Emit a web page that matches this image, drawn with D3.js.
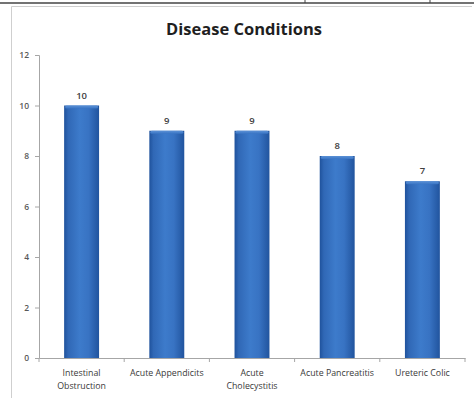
<!DOCTYPE html>
<html>
<head>
<meta charset="utf-8">
<script src="https://cdn.jsdelivr.net/npm/d3@7"></script>
<style>
  html, body { margin: 0; padding: 0; background: #fff; }
  svg { display: block; }
</style>
</head>
<body>
<svg id="chart" width="474" height="398"></svg>
<script>
// Disease condition counts
const categories = [
  ["Intestinal", "Obstruction"],
  ["Acute Appendicits"],
  ["Acute", "Cholecystitis"],
  ["Acute Pancreatitis"],
  ["Ureteric Colic"]
];
const counts = [10, 9, 9, 8, 7];
const yTicks = [0, 2, 4, 6, 8, 10, 12];
const title = "Disease Conditions";

const svg = d3.select("#chart");
const W = 474, H = 398;
const margin = { left: 39, right: 9, top: 55, bottom: 40 };
const x0 = margin.left, x1 = W - margin.right;
const yBase = H - margin.bottom, yTop = margin.top;

const font = "'Open Sans', 'Liberation Sans', sans-serif";

// Page rule across the top with two column separators
svg.append("line").attr("x1", 0).attr("x2", W).attr("y1", 3).attr("y2", 3)
  .attr("stroke", "#444").attr("stroke-width", 1.5);
[305, 430].forEach(px => svg.append("line")
  .attr("x1", px).attr("x2", px).attr("y1", 0).attr("y2", 3)
  .attr("stroke", "#444").attr("stroke-width", 1));

// Chart frame
svg.append("path")
  .attr("d", `M11.5,${H} V6.5 H${W - 2}`)
  .attr("fill", "none").attr("stroke", "#cfcfcf").attr("stroke-width", 1);

const idx = d3.range(categories.length);
const x = d3.scaleBand().domain(idx).range([x0, x1])
  .paddingInner(0.59).paddingOuter(0.295);
const y = d3.scaleLinear().domain([0, 12]).range([yBase, yTop]);

// Bar shading: darker edges, lighter middle
const defs = svg.append("defs");
const grad = defs.append("linearGradient").attr("id", "barGrad")
  .attr("x1", "0%").attr("x2", "100%").attr("y1", "0%").attr("y2", "0%");
[["0%", "#1f529c"], ["12%", "#3068b6"], ["45%", "#3d7bcb"], ["70%", "#3873c3"], ["100%", "#21549e"]]
  .forEach(([o, c]) => grad.append("stop").attr("offset", o).attr("stop-color", c));
const capGrad = defs.append("linearGradient").attr("id", "capGrad")
  .attr("x1", "0%").attr("x2", "0%").attr("y1", "0%").attr("y2", "100%");
[["0%", "#5b91d6"], ["100%", "#3a75c4"]]
  .forEach(([o, c]) => capGrad.append("stop").attr("offset", o).attr("stop-color", c));

// Y axis
const yAxis = d3.axisLeft(y).tickValues(yTicks).tickSize(4).tickPadding(6);
const gy = svg.append("g").attr("transform", `translate(${x0},0)`).call(yAxis);
gy.select(".domain").attr("stroke", "#a6a6a6");
gy.selectAll(".tick line").attr("stroke", "#a6a6a6");
gy.selectAll(".tick text").attr("fill", "#595959")
  .style("font-family", font).style("font-size", "8.5px").style("font-weight", "600");

// X axis: baseline with ticks at category boundaries
const xAxis = d3.axisBottom(x).tickSize(0).tickFormat("");
const gx = svg.append("g").attr("transform", `translate(0,${yBase})`).call(xAxis);
gx.select(".domain").attr("stroke", "#a6a6a6");
const step = x.step();
d3.range(categories.length + 1).forEach(i => {
  const px = x0 + i * step;
  gx.append("line").attr("x1", px).attr("x2", px).attr("y1", 0).attr("y2", 4)
    .attr("stroke", "#a6a6a6");
});

// Bars
const bars = svg.append("g").selectAll("g").data(idx).join("g");
bars.append("rect")
  .attr("x", i => x(i)).attr("width", x.bandwidth())
  .attr("y", i => y(counts[i])).attr("height", i => yBase - y(counts[i]))
  .attr("fill", "url(#barGrad)");
bars.append("rect")
  .attr("x", i => x(i) + 1).attr("width", x.bandwidth() - 2)
  .attr("y", i => y(counts[i])).attr("height", 3).attr("rx", 1.5)
  .attr("fill", "url(#capGrad)");

// Value labels
svg.append("g").selectAll("text").data(idx).join("text")
  .attr("x", i => x(i) + x.bandwidth() / 2)
  .attr("y", i => y(counts[i]) - 7)
  .attr("text-anchor", "middle")
  .attr("fill", "#404040")
  .style("font-family", font).style("font-size", "9.5px").style("font-weight", "600")
  .text(i => counts[i]);

// Category labels
const lab = svg.append("g").selectAll("text").data(idx).join("text")
  .attr("x", i => x(i) + x.bandwidth() / 2)
  .attr("y", yBase + 18)
  .attr("text-anchor", "middle")
  .attr("fill", "#3a3a3a")
  .style("font-family", font).style("font-size", "8.8px");
lab.each(function (i) {
  const t = d3.select(this);
  categories[i].forEach((line, k) => {
    t.append("tspan").attr("x", x(i) + x.bandwidth() / 2)
      .attr("dy", k === 0 ? 0 : 12.5).text(line);
  });
});

// Title
svg.append("text").attr("x", 244).attr("y", 35)
  .attr("text-anchor", "middle").attr("fill", "#1f1f1f")
  .style("font-family", "'Open Sans', sans-serif").style("font-weight", "bold")
  .style("font-size", "16.5px").text(title);
</script>
</body>
</html>
